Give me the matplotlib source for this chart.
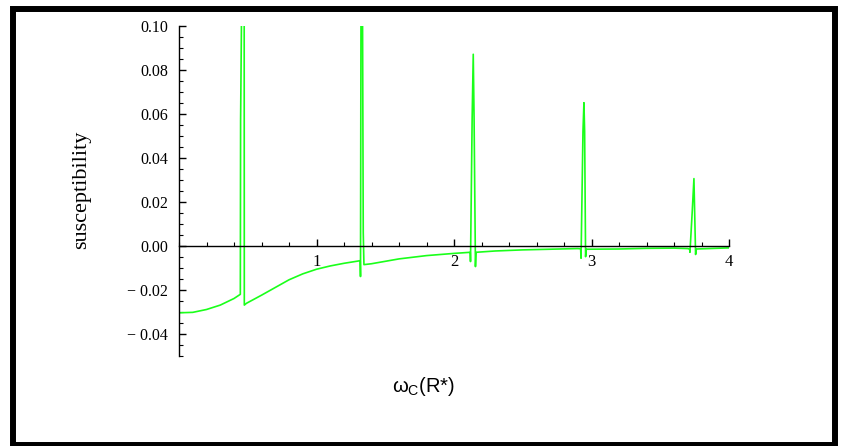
import numpy as np
import matplotlib
matplotlib.use("Agg")
import matplotlib.pyplot as plt
from matplotlib.patches import Rectangle
from matplotlib.ticker import MultipleLocator, FixedLocator, FuncFormatter

plt.rcParams["font.family"] = "Liberation Serif"
plt.rcParams["mathtext.fontset"] = "custom"
plt.rcParams["mathtext.rm"] = "Liberation Sans"

# values (peaks that run off the top are estimated)
omega = [0.000, 0.100, 0.200, 0.300, 0.400, 0.446, 0.448, 0.457, 0.474, 0.475,
         0.490, 0.600, 0.700, 0.800, 0.900, 1.000, 1.100, 1.200, 1.300, 1.318,
         1.320, 1.324, 1.334, 1.340, 1.345,
         1.400, 1.600, 1.800, 2.000, 2.118,
         2.120, 2.132, 2.140, 2.146, 2.156, 2.160,
         2.300, 2.500, 2.700, 2.900, 2.921,
         2.924, 2.938, 2.945, 2.950, 2.957, 2.962,
         3.200, 3.400, 3.600, 3.700, 3.714,
         3.716, 3.733, 3.745, 3.750, 3.757, 3.763,
         3.900, 4.000]
chi = [-0.0305, -0.0303, -0.0290, -0.0270, -0.0240, -0.0221, 0.057, 0.12, 0.12, -0.0270,
       -0.0262, -0.0225, -0.0190, -0.0155, -0.0128, -0.0107, -0.0092, -0.0080, -0.0070, -0.0068,
       -0.0140, 0.12, 0.12, 0.0060, -0.0086,
       -0.0082, -0.0060, -0.0045, -0.0035, -0.0030,
       -0.0072, 0.058, 0.087, 0.058, -0.0095, -0.0030,
       -0.0024, -0.0019, -0.0016, -0.0013, -0.0014,
       -0.0057, 0.052, 0.065, 0.052, -0.0050, -0.0016,
       -0.0015, -0.0012, -0.0011, -0.0013, -0.0016,
       -0.0030, 0.016, 0.0305, 0.016, -0.0040, -0.0015,
       -0.0012, -0.0010]

xticks = [1, 2, 3, 4]
yticks = [-0.04, -0.02, 0.00, 0.02, 0.04, 0.06, 0.08, 0.10]

fig = plt.figure(figsize=(8.43, 4.46), dpi=100)
ax = fig.add_axes([179/843, 1 - 355.7/446, 550/843, 330/446])

ax.plot(omega, chi, color="#1aff1a", lw=1.2)

ax.set_xlim(0, 4)
ax.set_ylim(-0.05, 0.10)
ax.spines["top"].set_visible(False)
ax.spines["right"].set_visible(False)
ax.spines["bottom"].set_position(("data", 0))
ax.spines["left"].set_position(("data", 0))
for s in ["bottom", "left"]:
    ax.spines[s].set_linewidth(1.0)

ax.xaxis.set_major_locator(FixedLocator(xticks))
ax.xaxis.set_minor_locator(MultipleLocator(0.2))
ax.yaxis.set_major_locator(FixedLocator(yticks))
ax.yaxis.set_minor_locator(MultipleLocator(0.005))
ax.yaxis.set_major_formatter(FuncFormatter(
    lambda v, p: ("\u2212 %.2f" % abs(v)) if v < -1e-9 else "%.2f" % abs(v)))

ax.tick_params(axis="x", which="both", direction="in", pad=6, labelsize=12)
ax.tick_params(axis="y", which="both", direction="in", pad=8, labelsize=11.5)
ax.tick_params(which="major", length=5, width=1)
ax.tick_params(which="minor", length=3, width=0.8)

fig.text(82/843, 1 - 190/446, "susceptibility", rotation=90, fontsize=16,
         ha="center", va="center")
fig.text(424/843, 1 - 387/446, r"ω$_{\mathrm{C}}$(R*)", family="Liberation Sans",
         fontsize=14.5, ha="center", va="center")

fig.add_artist(Rectangle((13/843, 1/446), (835 - 13)/843, (437 - 1)/446,
                         transform=fig.transFigure, fill=False,
                         ec="black", lw=4.3))

fig.savefig("out.png", dpi=100)
